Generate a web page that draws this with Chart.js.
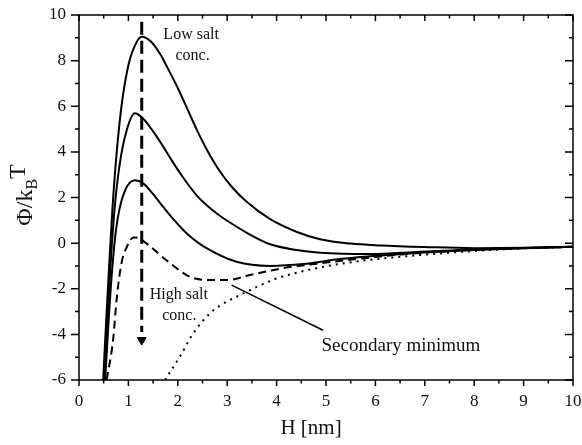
<!DOCTYPE html>
<html lang="en">
<head>
  <meta charset="UTF-8">
  <title>DLVO potential</title>
  <script src="https://cdn.jsdelivr.net/npm/chart.js@4.4.2/dist/chart.umd.min.js"></script>
  <style>
    body { margin: 0; background: #fff; }
    #wrap { width: 582px; height: 445px; }
  </style>
</head>
<body>
  <div id="wrap"><canvas id="chart" width="582" height="445"></canvas></div>
  <script>
    // curves: H in nm, potential in kT
    const lowH   = [0.49, 0.55, 0.61, 0.68, 0.76, 0.86, 0.98, 1.1, 1.27, 1.45, 1.64, 1.8, 2.0, 2.2, 2.4, 2.6, 2.85, 3.1, 3.4, 3.87, 4.4, 4.88, 5.5, 6.1, 7, 8, 9, 10];
    const lowPhi = [-6, -3.4, -1.0, 1.6, 3.9, 6.0, 7.6, 8.5, 9.05, 8.85, 8.3, 7.65, 6.8, 5.85, 4.9, 4.05, 3.15, 2.45, 1.8, 1.05, 0.5, 0.17, -0.02, -0.1, -0.17, -0.22, -0.2, -0.16];

    const midH   = [0.51, 0.57, 0.64, 0.72, 0.82, 0.96, 1.13, 1.3, 1.5, 1.7, 1.9, 2.1, 2.4, 2.7, 2.85, 3.0, 3.4, 3.87, 4.4, 4.88, 5.89, 6.9, 8, 9, 10];
    const midPhi = [-6, -3.5, -0.9, 1.5, 3.4, 4.9, 5.69, 5.45, 4.9, 4.25, 3.55, 2.9, 2.05, 1.45, 1.2, 0.98, 0.45, -0.05, -0.3, -0.42, -0.48, -0.38, -0.28, -0.21, -0.16];

    const hiH    = [0.53, 0.6, 0.67, 0.75, 0.83, 0.93, 1.03, 1.13, 1.3, 1.5, 1.7, 1.9, 2.1, 2.3, 2.52, 3.19, 3.87, 4.54, 5.2, 5.89, 6.9, 8, 9, 10];
    const hiPhi  = [-6, -3.4, -1.2, 0.6, 1.6, 2.3, 2.65, 2.76, 2.62, 2.15, 1.6, 1.07, 0.6, 0.2, -0.14, -0.82, -1.0, -0.92, -0.72, -0.58, -0.42, -0.3, -0.22, -0.16];

    const dashH   = [0.56, 0.69, 0.76, 0.86, 0.97, 1.1, 1.2, 1.37, 1.77, 2.25, 2.65, 2.99, 3.46, 4.13, 4.81, 5.82, 6.5, 7.5, 8.5, 10];
    const dashPhi = [-6, -4.25, -2.5, -0.88, -0.16, 0.25, 0.22, -0.02, -0.75, -1.48, -1.62, -1.62, -1.4, -1.1, -0.9, -0.65, -0.5, -0.35, -0.25, -0.16];

    const dotH   = [1.74, 2.04, 2.31, 2.65, 2.92, 3.19, 3.6, 4.0, 4.47, 5.14, 5.82, 6.5, 7.5, 8.5, 10];
    const dotPhi = [-6, -4.98, -3.96, -3.08, -2.65, -2.35, -1.92, -1.55, -1.26, -0.96, -0.75, -0.6, -0.42, -0.28, -0.16];

    // vertical arrow and pointer to the secondary minimum
    const arrowH = [1.27, 1.27];
    const arrowPhi = [9.7, -3.9];
    const headH = [1.27];
    const headPhi = [-4.25];
    const pointerH = [3.09, 4.94];
    const pointerPhi = [-1.84, -3.82];

    const xTicks = [0, 1, 2, 3, 4, 5, 6, 7, 8, 9, 10];
    const yTicks = [-6, -4, -2, 0, 2, 4, 6, 8, 10];

    const pts = (xs, ys) => xs.map((x, i) => ({ x: x, y: ys[i] }));
    const serif = '"Liberation Serif", "Times New Roman", serif';

    const line = (xs, ys, extra) => Object.assign({
      data: pts(xs, ys), borderColor: '#000', borderWidth: 2, pointRadius: 0,
      fill: false, cubicInterpolationMode: 'monotone'
    }, extra || {});

    const frame = {
      id: 'frame',
      afterDraw(chart) {
        const { ctx, chartArea: a, scales: { x, y } } = chart;
        ctx.save();
        ctx.strokeStyle = '#000';
        ctx.lineWidth = 1.5;
        ctx.strokeRect(a.left, a.top, a.right - a.left, a.bottom - a.top);
        ctx.beginPath();
        for (let v = 0; v <= 10; v += 0.5) {
          const px = x.getPixelForValue(v);
          const len = Number.isInteger(v) ? 6 : 3.5;
          ctx.moveTo(px, a.bottom); ctx.lineTo(px, a.bottom + len);
          ctx.moveTo(px, a.top); ctx.lineTo(px, a.top + len);
        }
        for (let v = -6; v <= 10; v += 1) {
          const py = y.getPixelForValue(v);
          const len = v % 2 === 0 ? 8 : 4;
          ctx.moveTo(a.left, py); ctx.lineTo(a.left - len, py);
          ctx.moveTo(a.right, py); ctx.lineTo(a.right - len, py);
        }
        ctx.stroke();

        ctx.fillStyle = '#111';
        ctx.textBaseline = 'middle';
        const put = (txt, h, p, size, align) => {
          ctx.font = size + 'px ' + serif;
          ctx.textAlign = align || 'center';
          ctx.fillText(txt, x.getPixelForValue(h), y.getPixelForValue(p));
        };
        put('Low salt', 2.27, 9.12, 16);
        put('conc.', 2.3, 8.2, 16);
        put('High salt', 2.02, -2.28, 16);
        put('conc.', 2.03, -3.2, 16);
        put('Secondary minimum', 4.91, -4.52, 19, 'left');

        // axis titles
        ctx.textAlign = 'center';
        ctx.font = '21px ' + serif;
        ctx.fillText('H [nm]', 311, 428);

        ctx.translate(24, 195);
        ctx.rotate(-Math.PI / 2);
        ctx.textAlign = 'left';
        ctx.textBaseline = 'alphabetic';
        const big = '24px ' + serif, small = '16px ' + serif;
        ctx.font = big;
        const w1 = ctx.measureText('\u03A6/k').width;
        ctx.font = small;
        const w2 = ctx.measureText('B').width;
        ctx.font = big;
        const w3 = ctx.measureText('T').width;
        let cx = -(w1 + w2 + w3) / 2;
        ctx.fillText('\u03A6/k', cx, 8);
        cx += w1;
        ctx.font = small;
        ctx.fillText('B', cx, 13);
        cx += w2;
        ctx.font = big;
        ctx.fillText('T', cx, 1);
        ctx.restore();
      }
    };

    new Chart(document.getElementById('chart'), {
      type: 'line',
      data: {
        datasets: [
          line(lowH, lowPhi),
          line(midH, midPhi),
          line(hiH, hiPhi),
          line(dashH, dashPhi, { borderDash: [8, 5] }),
          line(dotH, dotPhi, { borderDash: [2, 5] }),
          line(arrowH, arrowPhi, { borderWidth: 3, borderDash: [13, 6], cubicInterpolationMode: 'default', tension: 0 }),
          { data: pts(headH, headPhi), showLine: false, pointStyle: 'triangle', rotation: 180,
            pointRadius: 5, backgroundColor: '#000', borderColor: '#000', borderWidth: 1 },
          line(pointerH, pointerPhi, { borderWidth: 1.5, cubicInterpolationMode: 'default', tension: 0 })
        ]
      },
      options: {
        responsive: false,
        animation: false,
        layout: { padding: { top: 15, right: 9, left: 0, bottom: 0 } },
        plugins: { legend: { display: false }, tooltip: { enabled: false } },
        scales: {
          x: {
            type: 'linear', min: 0, max: 10,
            afterFit: s => { s.height = 65; s.paddingLeft = 0; s.paddingRight = 0; },
            afterBuildTicks: s => { s.ticks = xTicks.map(v => ({ value: v })); },
            grid: { display: false, drawTicks: false },
            border: { display: false },
            ticks: { color: '#111', padding: 11, font: { family: serif, size: 17 } }
          },
          y: {
            type: 'linear', min: -6, max: 10,
            afterFit: s => { s.width = 79; s.paddingTop = 0; s.paddingBottom = 0; },
            afterBuildTicks: s => { s.ticks = yTicks.map(v => ({ value: v })); },
            grid: { display: false, drawTicks: false },
            border: { display: false },
            ticks: { color: '#111', padding: 13, font: { family: serif, size: 17 } }
          }
        }
      },
      plugins: [frame]
    });
  </script>
</body>
</html>
